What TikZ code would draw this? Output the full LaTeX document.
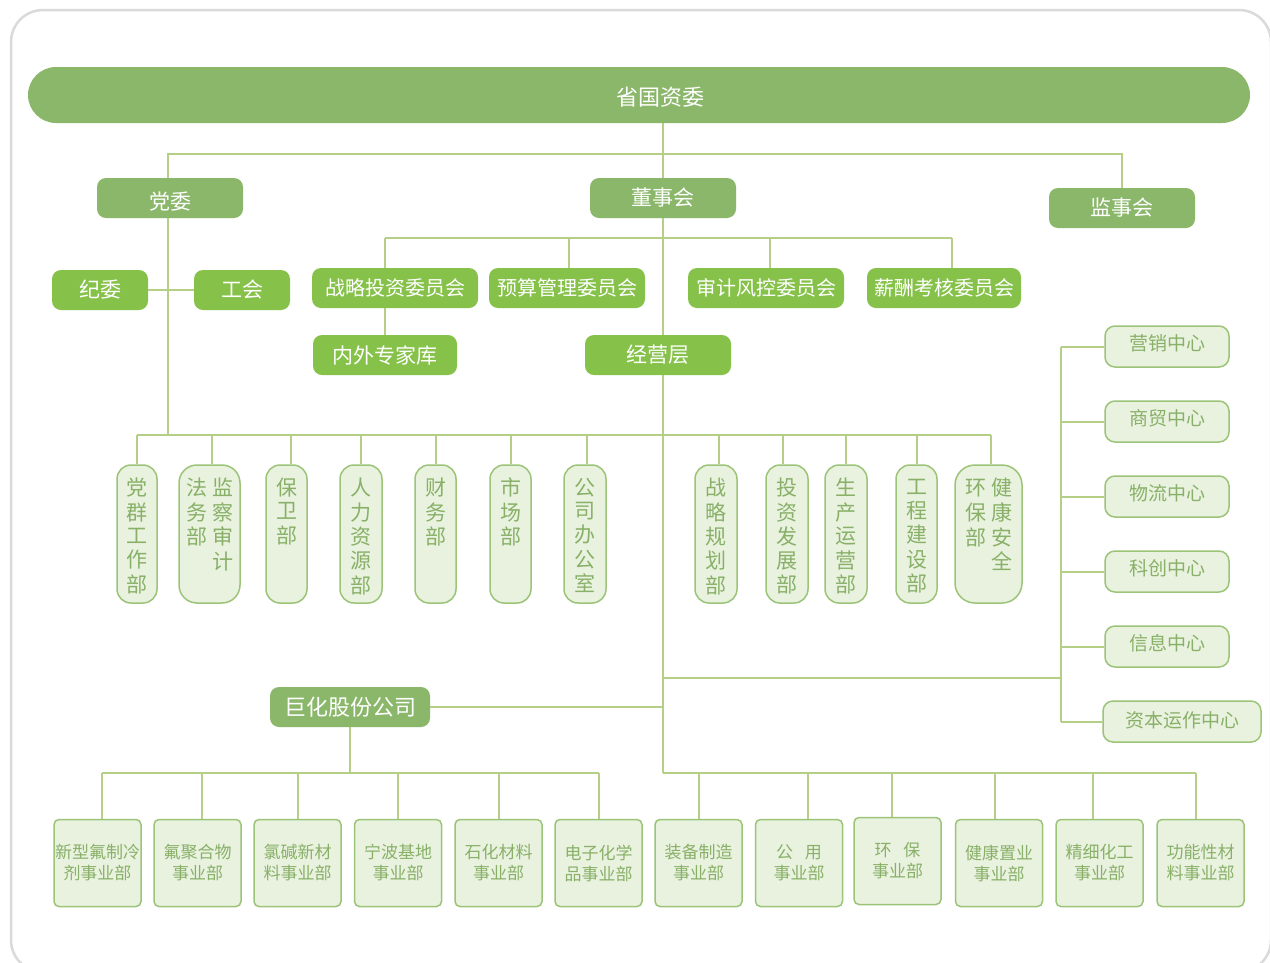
\documentclass[tikz,border=0pt]{standalone}
\usepackage{fontspec}
\setmainfont{Noto Sans CJK SC}
\usetikzlibrary{backgrounds}
\definecolor{dk}{RGB}{139,183,107}
\definecolor{br}{RGB}{134,194,74}
\definecolor{lf}{RGB}{233,242,222}
\definecolor{ls}{RGB}{156,196,120}
\definecolor{tg}{RGB}{136,176,104}
\definecolor{lnc}{RGB}{182,207,134}
\definecolor{frm}{RGB}{218,218,218}
\newcommand\vone[1]{\parbox[c][112pt][t]{30pt}{\centering\begin{tabular}[t]{@{}c@{}}#1\end{tabular}\par}}
\newcommand\vtwo[1]{\parbox[c][112pt][t]{60pt}{\centering\begin{tabular}[t]{@{}c@{\hspace{5pt}}c@{}}#1\end{tabular}\par}}
\newcommand\shiftv[2]{\raisebox{#1}[\height][\depth]{#2}}
\tikzset{
  conn/.style={draw=lnc, line width=2pt},
  dkbox/.style={fill=dk, rounded corners=9pt, text=white, minimum height=40pt, inner sep=0pt, font=\fontsize{21}{24}\selectfont},
  brbox/.style={fill=br, rounded corners=9pt, text=white, minimum height=40pt, inner sep=0pt, font=\fontsize{20}{24}\selectfont},
  deptbox/.style={fill=lf, draw=ls, line width=1.5pt, rounded corners=14pt, text=tg, minimum height=138pt, inner sep=0pt, font=\fontsize{21}{23}\selectfont},
  ctrbox/.style={fill=lf, draw=ls, line width=1.5pt, rounded corners=10pt, text=tg, minimum height=41pt, inner sep=0pt, font=\fontsize{19}{22}\selectfont},
  unitbox/.style={fill=lf, draw=ls, line width=1.5pt, rounded corners=5pt, text=tg, minimum width=87pt, minimum height=87pt, inner sep=0pt, align=center, font=\fontsize{17}{21}\selectfont},
}
\begin{document}
\begin{tikzpicture}[x=1pt,y=-1pt]
\useasboundingbox (0,0) rectangle (1270,962);

% top level
\node[dkbox, minimum width=1222pt, minimum height=56pt, rounded corners=28pt, font=\fontsize{22}{26}\selectfont] (gzw) at (639,95) {\hspace*{42pt}\shiftv{-2.5pt}{省国资委}};
\node[dkbox, minimum width=146pt] (dw) at (170,198) {\shiftv{-3.5pt}{党委}};
\node[dkbox, minimum width=146pt] (dsh) at (663,198) {董事会};
\node[dkbox, minimum width=146pt] (jsh) at (1122,208) {监事会};

% second level
\node[brbox, minimum width=96pt, font=\fontsize{21}{24}\selectfont] (jw) at (100,290) {纪委};
\node[brbox, minimum width=96pt, font=\fontsize{21}{24}\selectfont] (gh) at (242,290) {工会};
\node[brbox, minimum width=166pt] (c1) at (395,288) {战略投资委员会};
\node[brbox, minimum width=156pt] (c2) at (567,288) {预算管理委员会};
\node[brbox, minimum width=156pt] (c3) at (766,288) {审计风控委员会};
\node[brbox, minimum width=154pt] (c4) at (944,288) {薪酬考核委员会};
\node[brbox, minimum width=144pt, font=\fontsize{21}{24}\selectfont] (zj) at (385,355) {内外专家库};
\node[brbox, minimum width=146pt, font=\fontsize{21}{24}\selectfont] (jyc) at (658,355) {经营层};

% departments
\node[deptbox, minimum width=40pt] (d1) at (137,534) {\vone{党\\群\\工\\作\\部}};
\node[deptbox, minimum width=61pt, rounded corners=18pt] (d2) at (209.5,534) {\vtwo{法&监\\务&察\\部&审\\&计}};
\node[deptbox, minimum width=41pt] (d3) at (286.5,534) {\vone{保\\卫\\部}};
\node[deptbox, minimum width=42pt] (d4) at (361,534) {\vone{人\\力\\资\\源\\部}};
\node[deptbox, minimum width=41pt] (d5) at (435.5,534) {\vone{财\\务\\部}};
\node[deptbox, minimum width=41pt] (d6) at (510.5,534) {\vone{市\\场\\部}};
\node[deptbox, minimum width=42pt] (d7) at (585,534) {\vone{公\\司\\办\\公\\室}};
\node[deptbox, minimum width=42pt] (d8) at (716,534) {\vone{战\\略\\规\\划\\部}};
\node[deptbox, minimum width=42pt] (d9) at (787,534) {\vone{投\\资\\发\\展\\部}};
\node[deptbox, minimum width=42pt] (d10) at (846,534) {\vone{生\\产\\运\\营\\部}};
\node[deptbox, minimum width=41pt] (d11) at (916.5,534) {\vone{工\\程\\建\\设\\部}};
\node[deptbox, minimum width=67pt, rounded corners=20pt] (d12) at (988.5,534) {\vtwo{环&健\\保&康\\部&安\\&全}};

% centres
\node[ctrbox, minimum width=124pt] (k1) at (1167,346.5) {\shiftv{3pt}{营销中心}};
\node[ctrbox, minimum width=124pt] (k2) at (1167,421.5) {\shiftv{3pt}{商贸中心}};
\node[ctrbox, minimum width=124pt] (k3) at (1167,496.5) {\shiftv{3pt}{物流中心}};
\node[ctrbox, minimum width=124pt] (k4) at (1167,571.5) {\shiftv{3pt}{科创中心}};
\node[ctrbox, minimum width=124pt] (k5) at (1167,646.5) {\shiftv{3pt}{信息中心}};
\node[ctrbox, minimum width=158pt] (k6) at (1182,721.5) {\shiftv{1pt}{资本运作中心}};

% Juhua
\node[dkbox, minimum width=160pt, font=\fontsize{22}{26}\selectfont] (jh) at (350,707) {巨化股份公司};

% business units
\node[unitbox] (b1) at (97.5,863) {新型氟制冷\\剂事业部};
\node[unitbox] (b2) at (197.5,863) {氟聚合物\\事业部};
\node[unitbox] (b3) at (297.5,863) {氯碱新材\\料事业部};
\node[unitbox] (b4) at (398,863) {宁波基地\\事业部};
\node[unitbox] (b5) at (498.5,863) {石化材料\\事业部};
\node[unitbox] (b6) at (598.5,863) {电子化学\\品事业部};
\node[unitbox] (b7) at (698.5,863) {装备制造\\事业部};
\node[unitbox] (b8) at (799,863) {公\hspace{0.7em}用\\事业部};
\node[unitbox] (b9) at (897.5,861) {环\hspace{0.7em}保\\事业部};
\node[unitbox] (b10) at (999,863) {健康置业\\事业部};
\node[unitbox] (b11) at (1099.5,863) {精细化工\\事业部};
\node[unitbox] (b12) at (1200.5,863) {功能性材\\料事业部};

\coordinate (tb) at (663,773);
\coordinate (cv) at (1061,678);

\begin{scope}[on background layer]
  \fill[white] (0,0) rectangle (1270,962);
  \draw[frm, line width=2.5pt, rounded corners=32pt] (11,10) rectangle (1271,972);
  % trunk
  \draw[conn] (gzw.south -| dsh.center) -- (tb);
  % top bus
  \draw[conn] ([xshift=-2pt]dw.north) -- ([xshift=-2pt]dw.north |- 0,154) -- (jsh.north |- 0,154) -- (jsh.north);
  % party committee down to department bus
  \draw[conn] ([xshift=-2pt]dw.south) -- ([xshift=-2pt]dw.south |- 0,435);
  \draw[conn] (jw.east) -- (gh.west);
  % board committees
  \draw[conn] (zj.north |- 0,238) -- ([xshift=8pt]c4.north |- 0,238);
  \draw[conn] (zj.north) -- (zj.north |- 0,238);
  \foreach \n/\dx in {c2/2,c3/4,c4/8} \draw[conn] ([xshift=\dx pt]\n.north) -- ([xshift=\dx pt]\n.north |- 0,238);
  % department bus
  \draw[conn] (d1.north |- 0,435) -- ([xshift=2pt]d12.north |- 0,435);
  \foreach \n/\dx in {d1/0,d2/2,d3/4,d4/0,d5/0,d6/0,d7/2,d8/3,d9/-4,d10/0,d11/0,d12/2} \draw[conn] ([xshift=\dx pt]\n.north) -- ([xshift=\dx pt]\n.north |- 0,435);
  % centres
  \draw[conn] (cv -| dsh.center) -- (cv);
  \draw[conn] (k1.west -| cv) -- (k6.west -| cv);
  \foreach \n in {k1,k2,k3,k4,k5,k6} \draw[conn] (\n.west -| cv) -- (\n.west);
  % Juhua
  \draw[conn] (jh.east) -- (jh.east -| dsh.center);
  \draw[conn] (jh.south) -- (jh.south |- 0,773);
  \draw[conn] ([xshift=4.5pt]b1.north |- 0,773) -- (b6.north |- 0,773);
  \foreach \n/\dx in {b1/4.5,b2/4.5,b3/0.5,b4/0,b5/0,b6/0} \draw[conn] ([xshift=\dx pt]\n.north) -- ([xshift=\dx pt]\n.north |- 0,773);
  \draw[conn] (tb) -- ([xshift=-4.5pt]b12.north |- tb);
  \foreach \n/\dx in {b7/0.5,b8/9,b9/-5.5,b10/-4,b11/-6.5,b12/-4.5} \draw[conn] ([xshift=\dx pt]\n.north) -- ([xshift=\dx pt]\n.north |- tb);
\end{scope}
\end{tikzpicture}
\end{document}
